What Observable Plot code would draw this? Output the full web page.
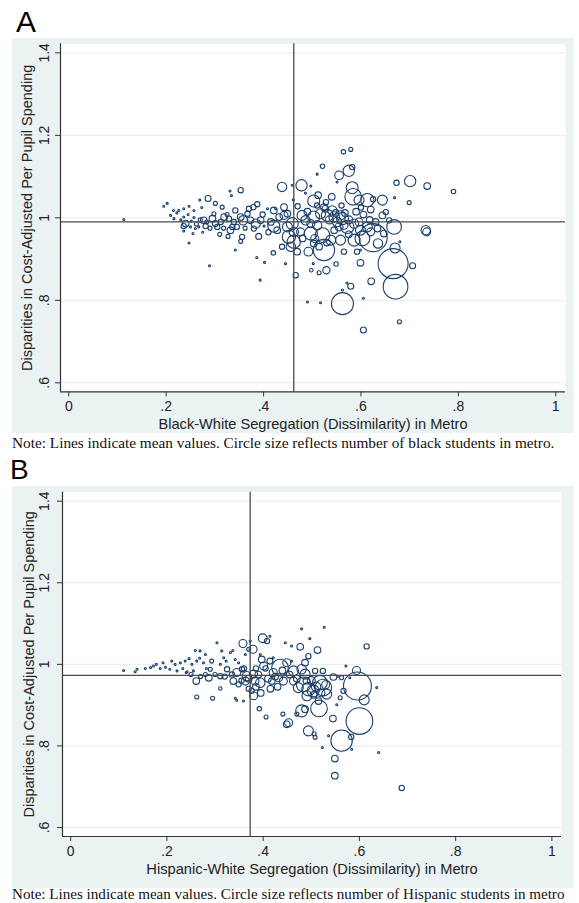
<!DOCTYPE html>
<html>
<head>
<meta charset="utf-8">
<script src="https://cdn.jsdelivr.net/npm/d3@7"></script>
<script src="https://cdn.jsdelivr.net/npm/@observablehq/plot@0.6"></script>
<style>
  html, body { margin: 0; padding: 0; background: #fff; width: 579px; height: 903px; overflow: hidden; }
  .abs { position: absolute; }
  .letter { font-family: "Liberation Sans", Arial, sans-serif; line-height: 1; color: #000; }
  .note { font-family: "Liberation Serif", "Times New Roman", serif; font-size: 15.3px; line-height: 16px; color: #111; white-space: nowrap; }
</style>
</head>
<body>
<div class="abs letter" style="left:16px; top:6.5px; font-size:30px;">A</div>
<div id="panelA" class="abs" style="left:12px; top:38px;"></div>
<div id="noteA" class="abs note" style="left:12px; top:435px;"></div>
<div class="abs letter" style="left:10px; top:456px; font-size:28px;">B</div>
<div id="panelB" class="abs" style="left:12px; top:486px;"></div>
<div id="noteB" class="abs note" style="left:12px; top:885.5px; font-size:15.1px;"></div>
<script>
// ---- Axis ticks / labels ----
const xTicks = [0, 0.2, 0.4, 0.6, 0.8, 1];
const yTicks = [0.6, 0.8, 1, 1.2, 1.4];
const yTitle = "Disparities in Cost-Adjusted Per Pupil Spending";
const xTitleA = "Black-White Segregation (Dissimilarity) in Metro";
const xTitleB = "Hispanic-White Segregation (Dissimilarity) in Metro";
const noteA = "Note: Lines indicate mean values. Circle size reflects number of black students in metro.";
const noteB = "Note: Lines indicate mean values. Circle size reflects number of Hispanic students in metro";

// ---- Mean values (reference lines) ----
const meanSegA = 0.462, meanDispA = 0.990;
const meanSegB = 0.373, meanDispB = 0.973;

// ---- Panel A: [black-white dissimilarity, spending disparity, black students (thousands)] ----
const metrosA = [
 [0.113,0.996,1],
 [0.564,1.160,5],[0.579,1.166,4],[0.521,1.125,5],[0.510,1.106,1],[0.582,1.123,7],[0.555,1.103,19],[0.575,1.114,32],[0.551,1.087,1],
 [0.438,1.075,22],[0.478,1.079,32],[0.459,1.079,1],[0.497,1.077,1],[0.582,1.073,36],[0.701,1.089,32],[0.673,1.085,7],[0.736,1.077,11],
 [0.461,1.044,1],[0.512,1.055,11],[0.540,1.051,11],[0.486,1.060,1],[0.584,1.051,69],[0.596,1.043,25],[0.613,1.043,44],[0.625,1.045,7],
 [0.644,1.043,25],[0.669,1.049,1],[0.699,1.037,4],[0.503,1.041,36],[0.524,1.026,11],[0.541,1.018,22],[0.442,1.026,11],[0.421,1.018,11],
 [0.387,1.033,7],[0.379,1.026,7],[0.353,1.067,7],[0.334,1.054,1],[0.331,1.065,1],[0.286,1.047,9],[0.301,1.035,4],[0.269,1.043,1],
 [0.202,1.035,1],[0.195,1.028,1],[0.226,1.018,1],[0.236,1.022,1],[0.247,1.028,1],[0.273,1.025,1],[0.257,1.018,1],[0.315,1.026,4],
 [0.342,1.018,7],[0.370,1.022,7],[0.408,1.022,1],[0.425,1.022,1],
 [0.209,1.006,1],[0.216,0.998,1],[0.236,1.002,1],[0.257,1.001,1],[0.240,0.986,11],[0.236,0.980,7],[0.250,0.978,1],[0.260,0.974,1],
 [0.267,0.978,1],[0.277,0.994,11],[0.281,0.980,7],[0.295,0.998,11],[0.301,0.986,9],[0.312,0.990,7],[0.319,1.002,11],[0.329,0.998,7],
 [0.339,0.990,7],[0.332,0.970,11],[0.336,0.978,7],[0.353,1.002,11],[0.358,0.994,22],[0.373,0.994,11],[0.384,0.986,22],[0.394,0.994,11],
 [0.401,0.980,1],[0.390,0.955,9],[0.356,0.954,7],[0.353,0.943,4],[0.380,0.974,7],[0.421,0.980,36],[0.432,1.002,11],[0.442,1.006,16],
 [0.449,1.010,11],[0.449,0.978,25],[0.459,0.986,36],[0.462,0.966,22],[0.452,0.954,44],[0.462,0.942,44],[0.456,0.930,22],[0.479,1.006,25],
 [0.486,0.994,22],[0.497,0.986,16],[0.503,1.002,36],[0.476,0.966,16],[0.497,0.962,44],[0.510,0.982,22],[0.517,1.010,25],[0.527,1.022,11],
 [0.531,1.006,36],[0.545,1.002,28],[0.551,0.990,22],[0.558,1.006,22],[0.565,0.982,16],[0.521,0.958,54],[0.524,0.922,114],[0.538,0.946,25],
 [0.558,0.946,25],[0.562,0.998,36],[0.572,0.978,44],[0.586,0.986,22],[0.596,0.990,16],[0.586,0.946,36],[0.603,0.950,54],[0.599,0.970,25],
 [0.613,0.978,25],[0.625,0.952,196],[0.620,0.966,16],[0.634,0.974,11],[0.635,0.938,22],[0.644,1.006,11],[0.651,1.014,7],[0.668,0.978,54],
 [0.670,0.927,25],[0.680,0.942,1],[0.666,0.889,225],[0.671,0.833,152],[0.706,0.884,9],[0.733,0.970,22],[0.735,0.966,16],[0.562,0.792,121],
 [0.490,0.796,1],[0.517,0.794,1],[0.605,0.728,9],[0.679,0.748,4],[0.605,0.805,1],[0.579,0.834,9],[0.571,0.842,1],[0.621,0.846,11],
 [0.562,0.825,1],[0.599,0.891,11],[0.549,0.888,5],[0.529,0.873,13],[0.514,0.867,4],[0.498,0.873,3],[0.466,0.861,7],[0.502,0.889,1],
 [0.492,0.918,19],[0.420,0.915,5],[0.445,0.889,1],[0.402,0.892,1],[0.386,0.904,1],[0.393,0.849,1],[0.289,0.884,1],[0.342,0.922,1],
 [0.247,0.939,1],[0.438,0.930,7],[0.469,0.918,11],[0.503,0.938,11],[0.514,0.930,11],[0.565,0.918,7],[0.592,0.918,7],[0.599,0.922,1],
 [0.647,0.962,11],[0.658,0.994,7],[0.790,1.064,5],
 [0.215,1.018,1],[0.222,1.012,1],[0.230,0.995,1],[0.245,1.008,1],[0.252,0.992,1],[0.262,0.985,4],[0.270,0.995,4],[0.283,0.990,4],
 [0.290,0.975,4],[0.298,1.010,4],[0.305,0.978,7],[0.318,0.975,4],[0.325,1.008,4],[0.345,0.978,7],[0.362,0.975,4],[0.367,1.010,7],
 [0.398,1.008,7],[0.410,0.965,7],[0.415,0.990,11],[0.428,0.970,11],[0.236,0.968,1],[0.255,0.962,1],[0.275,0.965,1],[0.310,0.960,4],
 [0.327,0.955,4],
 [0.535,0.995,16],[0.548,1.012,11],[0.555,0.978,16],[0.567,1.012,11],[0.575,0.995,16],[0.590,1.015,11],[0.605,1.008,11],[0.618,0.995,11],
 [0.528,1.038,7],[0.560,1.030,7],[0.600,1.025,7],[0.620,1.020,11],[0.630,0.990,11],[0.575,0.960,11],[0.545,0.970,11],[0.490,1.015,11],
 [0.510,1.030,7],[0.470,1.028,7],[0.480,0.950,11],[0.505,0.950,16],[0.530,0.940,11]
];

// ---- Panel B: [Hispanic-white dissimilarity, spending disparity, Hispanic students (thousands)] ----
const metrosB = [
 [0.110,0.985,1],[0.134,0.982,1],[0.138,0.988,1],[0.155,0.990,1],[0.166,0.992,1],[0.172,0.996,1],[0.178,1.000,1],[0.186,0.990,1],
 [0.192,1.004,1],[0.197,0.993,1],[0.206,0.988,1],[0.210,1.008,1],[0.217,1.000,1],[0.221,0.984,1],[0.228,1.004,1],[0.233,0.990,1],
 [0.238,1.008,1],[0.242,0.982,1],[0.246,1.014,1],[0.252,1.000,1],[0.255,0.984,1],[0.259,1.034,1],[0.262,1.008,1],[0.268,1.015,1],
 [0.269,1.033,1],[0.276,1.004,1],[0.280,1.024,1],[0.282,0.990,1],[0.290,0.988,4],[0.293,1.008,4],[0.304,1.053,1],[0.311,1.000,1],
 [0.314,1.033,1],[0.318,1.016,1],[0.323,1.008,1],[0.325,0.988,7],[0.332,1.029,1],[0.337,1.034,1],[0.342,1.012,1],[0.349,1.004,1],
 [0.356,0.988,7],[0.363,1.024,1],[0.370,1.037,4],
 [0.262,0.920,4],[0.295,0.917,4],[0.311,0.941,3],[0.342,0.917,1],[0.345,0.912,1],[0.359,0.910,1],
 [0.261,0.959,11],[0.287,0.967,11],[0.311,0.971,7],[0.338,0.959,11],[0.345,0.980,16],[0.349,0.951,7],[0.363,0.959,16],[0.366,0.971,22],
 [0.380,0.976,16],[0.383,0.959,16],[0.394,0.955,22],[0.380,0.923,16],[0.376,0.935,7],[0.358,1.051,16],[0.379,1.037,16],[0.399,1.064,19],
 [0.408,1.057,7],[0.414,1.069,1],[0.373,1.057,1],[0.401,0.996,16],[0.397,1.012,11],[0.394,1.024,1],[0.414,1.008,9],[0.421,1.016,1],
 [0.421,0.980,16],[0.418,0.959,11],[0.435,0.992,69],[0.432,0.967,16],[0.442,0.959,16],[0.449,1.004,16],[0.459,1.008,1],[0.463,0.984,25],
 [0.446,1.053,1],[0.459,1.045,1],[0.477,1.043,11],[0.480,1.087,1],[0.497,1.063,1],[0.513,1.035,11],[0.527,1.091,1],[0.494,1.020,7],
 [0.487,1.004,11],[0.480,0.988,22],[0.487,0.976,25],[0.463,0.959,16],[0.473,0.943,25],[0.484,0.951,54],[0.494,0.939,44],[0.504,0.935,36],
 [0.491,0.923,25],[0.518,0.955,54],[0.525,0.943,69],[0.532,0.927,25],[0.480,0.886,36],[0.487,0.890,11],[0.516,0.892,69],[0.453,0.857,16],
 [0.449,0.853,11],[0.392,0.891,5],[0.406,0.871,4],[0.441,0.878,4],[0.470,0.878,4],[0.494,0.837,25],[0.506,0.830,4],[0.508,0.821,4],
 [0.545,0.867,11],[0.563,0.813,114],[0.600,0.861,178],[0.596,0.947,196],[0.610,0.913,25],[0.594,0.985,16],[0.567,0.935,7],[0.560,0.918,4],
 [0.580,0.967,1],[0.546,0.969,11],[0.556,0.971,1],[0.563,0.967,4],[0.572,0.996,1],[0.553,0.901,1],[0.524,0.984,7],[0.508,0.984,7],
 [0.615,1.044,7],[0.536,0.825,1],[0.523,0.796,1],[0.584,0.792,1],[0.640,0.784,1],[0.549,0.769,11],[0.549,0.727,11],[0.688,0.697,7],
 [0.636,0.943,1],[0.583,0.822,7],
 [0.500,0.960,16],[0.510,0.945,22],[0.520,0.930,16],[0.505,0.925,11],[0.490,0.960,11],[0.515,0.910,11],[0.530,0.950,16],[0.470,0.965,11],
 [0.455,0.975,11],[0.440,0.985,11],[0.425,0.970,11],[0.410,0.965,11],[0.390,0.975,11],[0.370,0.965,11],[0.355,0.960,7],[0.335,0.975,7],
 [0.320,0.970,7],[0.300,0.975,4],[0.280,0.975,4],[0.270,0.970,4],[0.250,0.975,4],[0.240,0.980,1],[0.360,0.990,7],[0.385,0.990,7],
 [0.405,0.990,7],[0.415,0.940,11],[0.430,0.945,11],[0.370,0.940,7],[0.385,0.945,11],[0.395,0.930,11]
];

const X_DOMAIN = [-0.017, 1.02];
const Y_DOMAIN = [0.578, 1.422];
const fmt = d => d === 0 ? "0" : (Math.abs(d) < 1 ? String(d).replace(/^0\./, ".") : String(d));

function panel({data, meanX, meanY, xTitle, height, marginLeft, marginRight, marginBottom, marginTop, xPad, xTitleDy, yPad, titleSize}) {
  return Plot.plot({
    width: 562,
    height,
    marginLeft, marginRight, marginBottom, marginTop,
    style: {background: "#eaf2f3", fontFamily: "'Liberation Sans', Arial, sans-serif", fontSize: "14px", color: "#222", overflow: "visible"},
    x: {domain: X_DOMAIN, label: null},
    y: {domain: Y_DOMAIN, label: null},
    r: {type: "sqrt", domain: [0, 225], range: [0, 15]},
    marks: [
      Plot.frame({fill: "white", stroke: "none"}),
      Plot.ruleY(yTicks, {stroke: "#e6edef", strokeWidth: 1}),
      Plot.dot(data, {x: d => d[0], y: d => d[1], r: d => d[2], stroke: "#1b3f6c", strokeWidth: 1.1, fill: "none"}),
      Plot.ruleX([meanX], {stroke: "#4a4a4a", strokeWidth: 1.3}),
      Plot.ruleY([meanY], {stroke: "#4a4a4a", strokeWidth: 1.3}),
      Plot.ruleY([Y_DOMAIN[0]], {stroke: "#333", strokeWidth: 1.2}),
      Plot.ruleX([X_DOMAIN[0]], {stroke: "#333", strokeWidth: 1.2}),
      Plot.axisX({ticks: xTicks, tickFormat: fmt, tickSize: 5, tickPadding: xPad, label: null, stroke: "#333", fill: "#222", fontSize: 14}),
      Plot.axisY({ticks: yTicks, tickFormat: fmt, tickSize: 5, tickPadding: yPad, tickRotate: -90, label: null, stroke: "#333", fill: "#222", fontSize: 14}),
      Plot.text([xTitle], {frameAnchor: "bottom", dy: xTitleDy, text: d => d, textAnchor: "middle", lineAnchor: "middle", fill: "#222", fontSize: titleSize}),
      Plot.text([yTitle], {frameAnchor: "left", dx: -33.5, rotate: -90, text: d => d, textAnchor: "middle", lineAnchor: "middle", fill: "#222", fontSize: 14.5})
    ]
  });
}

document.getElementById("panelA").appendChild(panel({
  data: metrosA, meanX: meanSegA, meanY: meanDispA, xTitle: xTitleA,
  height: 395, marginLeft: 48, marginRight: 9, marginTop: 5.3, marginBottom: 41.6, xPad: 4, xTitleDy: 32.3, yPad: 7, titleSize: 14.6
}));
document.getElementById("panelB").appendChild(panel({
  data: metrosB, meanX: meanSegB, meanY: meanDispB, xTitle: xTitleB,
  height: 402, marginLeft: 50, marginRight: 13, marginTop: 5.7, marginBottom: 52, xPad: 5, xTitleDy: 33, yPad: 9, titleSize: 14.7
}));
document.getElementById("noteA").textContent = noteA;
document.getElementById("noteB").textContent = noteB;
</script>
</body>
</html>
